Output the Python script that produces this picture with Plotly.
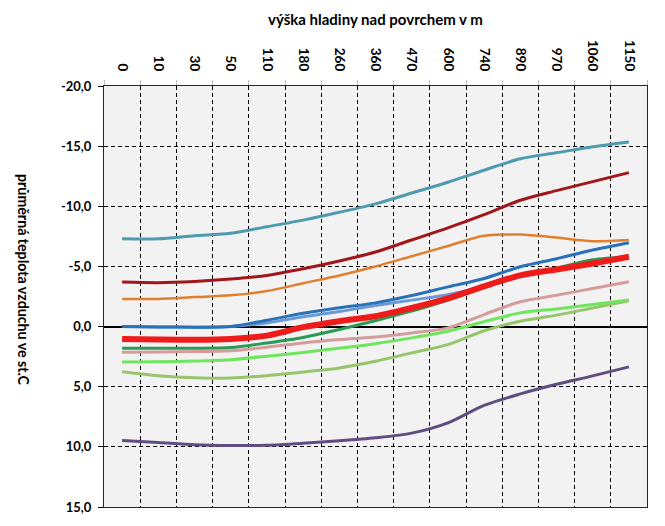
import plotly.graph_objects as go

# ---- data -------------------------------------------------------------
heights = ["0", "10", "30", "50", "110", "180", "260", "360", "470",
           "600", "740", "890", "970", "1060", "1150"]

s_teal = [-7.3, -7.3, -7.55, -7.75, -8.3, -8.85, -9.5, -10.2, -11.1,
          -12.0, -13.0, -13.95, -14.45, -14.95, -15.35]
s_darkred = [-3.7, -3.65, -3.75, -3.95, -4.25, -4.8, -5.45, -6.2, -7.2,
             -8.2, -9.3, -10.5, -11.3, -12.05, -12.8]
s_orange = [-2.3, -2.3, -2.45, -2.6, -2.95, -3.6, -4.25, -5.0, -5.85,
            -6.7, -7.55, -7.65, -7.4, -7.1, -7.2]
s_blue = [0.0, 0.03, 0.05, 0.0, -0.53, -1.1, -1.56, -1.97, -2.58,
          -3.3, -4.0, -4.97, -5.64, -6.36, -6.97]
s_lightblue = [0.0, 0.03, 0.05, 0.0, -0.3, -0.82, -1.25, -1.75, -2.2,
               -2.65, -3.35, -4.25, -4.75, -5.25, -5.8]
s_red = [1.03, 1.08, 1.1, 1.03, 0.75, 0.05, -0.45, -0.86, -1.55,
         -2.35, -3.35, -4.25, -4.75, -5.25, -5.8]
s_darkgreen = [1.8, 1.8, 1.8, 1.75, 1.36, 0.9, 0.25, -0.5, -1.28,
               -2.2, -3.3, -4.25, -4.85, -5.55, -5.8]
s_pink = [2.14, 2.12, 2.08, 2.0, 1.72, 1.36, 1.08, 0.86, 0.53,
          0.11, -1.0, -2.06, -2.6, -3.17, -3.72]
s_lightgreen = [2.94, 2.92, 2.86, 2.75, 2.47, 2.15, 1.8, 1.42, 0.94,
                0.39, -0.4, -1.14, -1.47, -1.83, -2.22]
s_olive = [3.75, 4.08, 4.25, 4.28, 4.08, 3.78, 3.44, 2.89, 2.19,
           1.5, 0.35, -0.45, -0.95, -1.55, -2.15]
s_purple = [9.47, 9.64, 9.83, 9.89, 9.86, 9.7, 9.5, 9.25, 8.86,
            8.0, 6.55, 5.6, 4.8, 4.1, 3.35]

y_tick_values = [-20, -15, -10, -5, 0, 5, 10, 15]
y_tick_labels = ["-20,0", "-15,0", "-10,0", "-5,0", "0,0", "5,0", "10,0", "15,0"]

x_title = "výška hladiny nad povrchem v m"
y_title = "průměrná teplota vzduchu ve st.C"

# ---- styles (draw order: first = bottom) -------------------------------
series = [
    (s_purple, "#5E4D80", 3),
    (s_olive, "#98C46C", 3),
    (s_lightgreen, "#6FE55E", 3),
    (s_pink, "#D49C9C", 3),
    (s_darkgreen, "#2A9A55", 3),
    (s_lightblue, "#6A9AD6", 3),
    (s_blue, "#2A72B8", 3),
    (s_red, "#EE1B1B", 6),
    (s_orange, "#E07F2E", 2.5),
    (s_darkred, "#A0161A", 3),
    (s_teal, "#4E9AAE", 3),
]

fig = go.Figure()
for vals, color, width in series:
    fig.add_trace(go.Scatter(
        x=heights, y=vals, mode="lines",
        line=dict(color=color, width=width, shape="spline", smoothing=0.8),
        showlegend=False, hoverinfo="skip",
    ))

bold = dict(family="Lato", size=13, color="black", weight="bold")

# the page adds an 8px body margin, so the figure is 8px smaller than the window
fig.update_layout(
    template="none",
    width=657, height=518,
    margin=dict(l=96, r=18, t=78, b=19),
    paper_bgcolor="white",
    plot_bgcolor="#F2F2F2",
    font=dict(family="Lato", size=13, color="black"),
    showlegend=False,
    xaxis=dict(
        type="category",
        side="top",
        range=[-0.5, 14.5],
        tickangle=90,
        tickson="boundaries",
        ticks="outside", ticklen=5, tickcolor="#BFBFBF", tickwidth=1,
        tickfont=dict(family="Lato", size=13.5, color="black", weight="bold"),
        ticklabelstandoff=9,
        showgrid=True, gridcolor="black", gridwidth=1, griddash="4px,3px",
        showline=True, mirror=True, linecolor="#262626", linewidth=1,
        zeroline=False,
        automargin=False,
    ),
    yaxis=dict(
        range=[15, -20],
        tickvals=y_tick_values, ticktext=y_tick_labels,
        ticks="outside", ticklen=5, tickcolor="black", tickwidth=1,
        tickfont=bold,
        ticklabelstandoff=4,
        showgrid=True, gridcolor="black", gridwidth=1, griddash="4px,3px",
        showline=True, mirror=True, linecolor="#262626", linewidth=1,
        zeroline=True, zerolinecolor="black", zerolinewidth=2,
        automargin=False,
    ),
    annotations=[
        dict(text=x_title, xref="paper", yref="paper",
             x=0.5, y=1.158, xanchor="center", yanchor="middle",
             showarrow=False,
             font=dict(family="Lato", size=15, color="black", weight="bold")),
        dict(text=y_title, xref="paper", yref="paper",
             x=-0.148, y=0.54, xanchor="center", yanchor="middle",
             textangle=90, showarrow=False,
             font=dict(family="Lato", size=14.2, color="black", weight="bold")),
    ],
)

fig.write_html("out.html")
